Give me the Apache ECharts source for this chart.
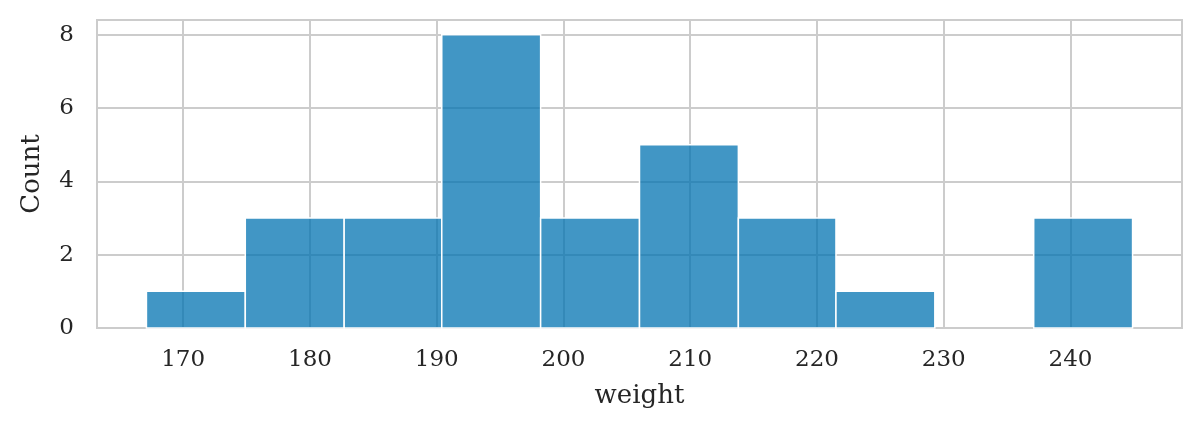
<!DOCTYPE html>
<html>
<head>
<meta charset="utf-8">
<script src="https://cdn.jsdelivr.net/npm/echarts@6/dist/echarts.min.js"></script>
<style>
  html, body { margin: 0; padding: 0; background: #fff; }
  #chart { width: 1201px; height: 432px; }
</style>
</head>
<body>
<div id="chart"></div>
<script>
// histogram of weight
const binEdges = [167.1, 174.9, 182.7, 190.4, 198.2, 206.0, 213.8, 221.5, 229.3, 237.1, 244.9]
const counts = [1, 3, 3, 8, 3, 5, 3, 1, 0, 3]
const xTicks = [170, 180, 190, 200, 210, 220, 230, 240]
const yTicks = [0, 2, 4, 6, 8]

const barData = counts.map((c, i) => [binEdges[i], binEdges[i + 1], c])

const font = 'DejaVu Serif'
const textColor = '#262626'
const gridColor = '#cccccc'

function renderBin (params, api) {
  const count = api.value(2)
  if (!count) return null
  const topLeft = api.coord([api.value(0), count])
  const bottomRight = api.coord([api.value(1), 0])
  return {
    type: 'rect',
    shape: {
      x: topLeft[0],
      y: topLeft[1],
      width: bottomRight[0] - topLeft[0],
      height: bottomRight[1] - topLeft[1]
    },
    style: {
      fill: 'rgba(1,115,178,0.75)',
      stroke: '#ffffff',
      lineWidth: 1.5
    }
  }
}

const chart = echarts.init(document.getElementById('chart'), null, { renderer: 'canvas' })
chart.setOption({
  animation: false,
  backgroundColor: '#ffffff',
  grid: {
    left: 97,
    right: 19,
    top: 20,
    bottom: 104,
    show: true,
    borderColor: gridColor,
    borderWidth: 2,
    backgroundColor: 'transparent'
  },
  xAxis: {
    type: 'value',
    min: 163.2,
    max: 248.8,
    name: 'weight',
    nameLocation: 'middle',
    nameGap: 55,
    nameTextStyle: { fontFamily: font, fontSize: 26, color: textColor },
    axisLine: { show: true, lineStyle: { color: gridColor, width: 2 } },
    axisTick: { show: false, customValues: xTicks },
    axisLabel: {
      customValues: xTicks,
      fontFamily: font,
      fontSize: 23,
      color: textColor,
      margin: 21
    },
    splitLine: { show: true, lineStyle: { color: gridColor, width: 2 } }
  },
  yAxis: {
    type: 'value',
    min: 0,
    max: 8.4,
    name: 'Count',
    nameLocation: 'middle',
    nameGap: 52,
    nameRotate: 90,
    nameTextStyle: { fontFamily: font, fontSize: 26, color: textColor },
    axisLine: { show: true, lineStyle: { color: gridColor, width: 2 } },
    axisTick: { show: false, customValues: yTicks },
    axisLabel: {
      customValues: yTicks,
      fontFamily: font,
      fontSize: 23,
      color: textColor,
      margin: 23
    },
    splitLine: { show: true, lineStyle: { color: gridColor, width: 2 } }
  },
  series: [{
    type: 'custom',
    renderItem: renderBin,
    encode: { x: [0, 1], y: 2 },
    data: barData
  }]
})
window.addEventListener('resize', () => chart.resize())
</script>
</body>
</html>
